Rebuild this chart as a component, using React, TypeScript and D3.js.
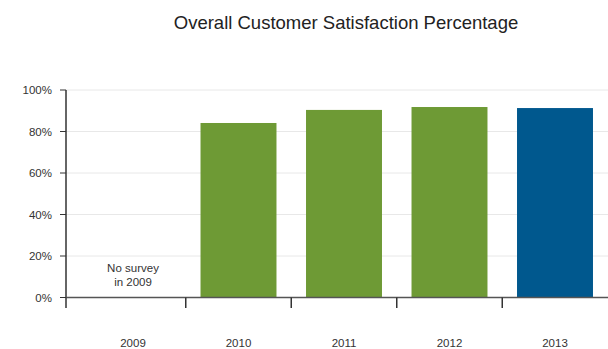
import React from "react";
import * as d3 from "d3";

const years = ["2009", "2010", "2011", "2012", "2013"];
const values: (number | null)[] = [null, 84.1, 90.4, 91.8, 91.3];
const barColors = ["#6E9A35", "#6E9A35", "#6E9A35", "#6E9A35", "#00588E"];
const yTicks = [0, 20, 40, 60, 80, 100];
const title = "Overall Customer Satisfaction Percentage";
const noDataNote = ["No survey", "in 2009"];

export default function App() {
  const W = 608, H = 349;
  const axisX = 66;
  const x = d3.scaleBand<string>().domain(years).range([80.25, 607.75]).padding(0);
  const y = d3.scaleLinear().domain([0, 100]).range([297.5, 90]);
  const barW = x.bandwidth() * 0.72;
  const font = "Liberation Sans, Arial, Helvetica, sans-serif";
  return (
    <svg width={W} height={H} style={{ position: "absolute", left: 0, top: 0 }} fontFamily={font}>
      <rect width={W} height={H} fill="#fff" />
      <text x={346} y={29} textAnchor="middle" fontSize={18.5} fill="#222">{title}</text>
      {yTicks.map((t) => (
        <g key={t}>
          {t > 0 && <line x1={axisX} x2={W} y1={y(t)} y2={y(t)} stroke="#e8e8e8" strokeWidth={1} />}
          <line x1={60} x2={axisX} y1={y(t)} y2={y(t)} stroke="#333" strokeWidth={1} />
          <text x={52} y={y(t)} dy="0.35em" textAnchor="end" fontSize={11.5} fill="#333">{t}%</text>
        </g>
      ))}
      {years.map((yr, i) => {
        const v = values[i];
        const cx = (x(yr) as number) + x.bandwidth() / 2;
        return (
          <g key={yr}>
            {v != null && (
              <rect x={cx - barW / 2} y={y(v)} width={barW} height={y(0) - y(v)} fill={barColors[i]} />
            )}
            <text x={cx} y={347} textAnchor="middle" fontSize={11.5} fill="#333">{yr}</text>
          </g>
        );
      })}
      {(() => {
        const cx = (x(years[0]) as number) + x.bandwidth() / 2;
        return noDataNote.map((s, j) => (
          <text key={j} x={cx} y={272 + j * 14} textAnchor="middle" fontSize={11.5} fill="#333">{s}</text>
        ));
      })()}
      <line x1={axisX} x2={axisX} y1={90} y2={y(0)} stroke="#333" strokeWidth={1.5} />
      <line x1={axisX} x2={W} y1={y(0)} y2={y(0)} stroke="#555" strokeWidth={1.5} />
      {[axisX, ...years.slice(1).map((yr) => x(yr) as number)].map((tx, i) => (
        <line key={i} x1={tx} x2={tx} y1={y(0)} y2={308} stroke="#333" strokeWidth={1.5} />
      ))}
    </svg>
  );
}
